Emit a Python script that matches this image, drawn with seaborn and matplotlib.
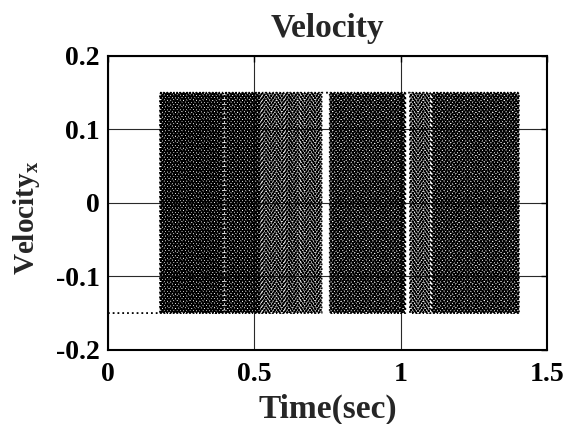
import numpy as np
import pandas as pd
import matplotlib
matplotlib.use("Agg")
import matplotlib.pyplot as plt
import seaborn as sns

# ---- data ----
v_amp = 0.15                      # chattering amplitude of Velocity_x
t_idle_start = 0.0                # signal sits at -v_amp before chattering
# chattering bursts (start, end) in seconds and switching interval in each burst
burst_start = [0.178, 0.400, 0.526, 0.607, 0.658, 0.758, 1.032, 1.106]
burst_end   = [0.395, 0.522, 0.603, 0.654, 0.730, 1.016, 1.100, 1.404]
burst_step  = [0.0020, 0.0021, 0.0026, 0.0025, 0.0026, 0.0022, 0.0026, 0.0022]

x_ticks = [0, 0.5, 1, 1.5]
x_tick_labels = ["0", "0.5", "1", "1.5"]
y_ticks = [-0.2, -0.1, 0, 0.1, 0.2]
y_tick_labels = ["-0.2", "-0.1", "0", "0.1", "0.2"]

# ---- build the switching series ----
t_list = [t_idle_start]
v_list = [-v_amp]
sign = 1
for s, e, d in zip(burst_start, burst_end, burst_step):
    n = int(round((e - s) / d))
    ts = np.linspace(s, e, n + 1)
    for t in ts:
        t_list.append(t)
        v_list.append(sign * v_amp)
        sign = -sign
df = pd.DataFrame({"t": t_list, "v": v_list})

# ---- style ----
sns.set_style("white")
plt.rcParams["font.family"] = ["Liberation Serif", "DejaVu Serif"]
plt.rcParams["font.weight"] = "bold"
plt.rcParams["mathtext.fontset"] = "custom"
plt.rcParams["mathtext.rm"] = "Liberation Serif:bold"
plt.rcParams["mathtext.bf"] = "Liberation Serif:bold"
plt.rcParams["mathtext.it"] = "Liberation Serif:bold"

fig = plt.figure(figsize=(5.68, 4.24), dpi=100)
ax = fig.add_axes([0.190, 0.175, 0.773, 0.693])

sns.lineplot(data=df, x="t", y="v", ax=ax, color="black", lw=1.3,
             linestyle=":", drawstyle="steps-post", estimator=None, sort=False)

ax.set_xlim(0, 1.5)
ax.set_ylim(-0.2, 0.2)
ax.set_xticks(x_ticks)
ax.set_xticklabels(x_tick_labels)
ax.set_yticks(y_ticks)
ax.set_yticklabels(y_tick_labels)
ax.grid(True, color="#2a2a2a", lw=0.8, ls="-")
ax.set_axisbelow(True)
for sp in ax.spines.values():
    sp.set_visible(True)
    sp.set_color("black")
    sp.set_linewidth(1.5)
ax.tick_params(direction="in", length=4, width=1, top=True, right=True,
               labelsize=20, pad=6, colors="black")
ax.tick_params(axis="x", pad=9)
for lab in ax.get_xticklabels() + ax.get_yticklabels():
    lab.set_fontweight("bold")

ax.set_title("Velocity", fontsize=24, fontweight="bold", pad=14)
ax.set_xlabel("Time(sec)", fontsize=24, fontweight="bold")
ax.set_ylabel(r"Velocity$_{\mathbf{x}}$", fontsize=21, fontweight="bold")
ax.xaxis.set_label_coords(0.5, -0.148)
ax.yaxis.set_label_coords(-0.15, 0.45)

fig.savefig("out.png", dpi=100)
